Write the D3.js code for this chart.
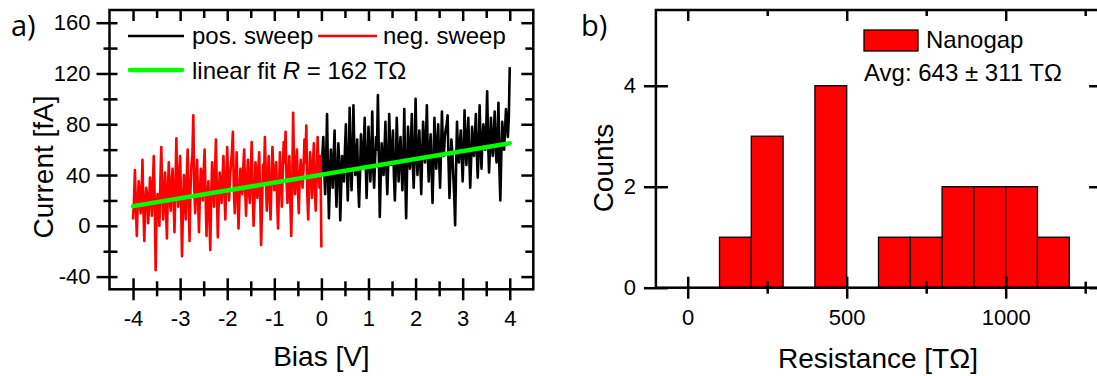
<!DOCTYPE html>
<html>
<head>
<meta charset="utf-8">
<script src="https://cdn.jsdelivr.net/npm/d3@7"></script>
<style>
  html, body { margin: 0; padding: 0; background: #fff; }
  svg { display: block; font-family: "Liberation Sans", Arial, sans-serif; }
</style>
</head>
<body>
<svg id="chart" width="1097" height="376"></svg>
<script>
// ---------------- DATA ----------------
// Panel a: I–V sweeps (bias sampled every 0.02 V)
const biasStep = 0.02;
const negSweepStart = -4;   // red: -4 V .. 0 V
const posSweepStart = 0;    // black: 0 V .. 4 V
const negSweepCurrent = [
  5, 20, 44, 15, -8, 18, 35, 28, 10, 22, 52, 12, -12, 20, 30, 25, 2, 15, 38, 30,
  8, 30, 55, 22, -35, 10, 25, 18, 0, 35, 62, 25, 5, 28, 42, 12, -10, 30, 50, 20,
  12, 35, 45, 20, -5, 30, 69, 28, 15, 40, 55, 18, -24, 12, 40, 25, 5, 38, 60, 22,
  -12, 28, 48, 55, 87, 30, 10, 35, 52, 22, -5, 25, 45, 38, 20, 42, 60, 25, -8, 20,
  35, 10, -19, 25, 50, 32, 15, 40, 68, 28, -9, 20, 42, 30, 18, 38, 55, 26, 5, 35,
  62, 35, 20, 40, 48, 58, 74, 30, 10, 32, 58, 25, -2, 22, 45, 35, 25, 45, 60, 30,
  8, 35, 52, 28, 18, 42, 66, 30, 0, 20, 50, 38, 22, 45, 58, 20, -15, 15, 48, 35,
  70, 40, 12, 30, 55, 25, 5, 35, 62, 45, 28, 40, 50, 20, -2, 30, 58, 38, 15, 42,
  66, 50, 74, 35, 18, 40, 55, 20, -8, 30, 89, 45, 25, 48, 60, 30, 10, 38, 52, 40,
  30, 45, 68, 50, 79, 25, 5, 35, 58, 42, 22, 48, 65, 30, 12, 40, 70, 45, 30, 55,
  -17
];
const posSweepCurrent = [
  40, 55, 70, 45, 25, 50, 88, 40, 6, 35, 60, 45, 30, 55, 75, 38, 15, 42, 65, 50,
  4.5, 30, 55, 42, 35, 60, 80, 48, 20, 45, 93, 55, 28, 50, 95, 60, 40, 52, 68, 35,
  15, 40, 72, 55, 45, 62, 85, 50, 22, 48, 78, 58, 35, 55, 90, 45, 30, 52, 70, 60,
  103, 55, 7, 38, 65, 52, 40, 60, 82, 45, 25, 50, 88, 62, 48, 58, 75, 40, 20, 45,
  85, 60, 35, 55, 70, 48, 28, 52, 92, 40, 6, 45, 78, 58, 45, 62, 88, 50, 30, 55,
  100, 62, 40, 58, 75, 50, 25, 55, 82, 65, 50, 68, 95, 55, 35, 60, 72, 45, 18, 48,
  85, 60, 45, 65, 80, 52, 30, 58, 90, 62, 55, 70, 76, 80, 87, 50, 22, 48, 68, 58,
  40, 25, 0.5, 45, 82, 60, 50, 65, 75, 55, 35, 58, 91, 62, 48, 70, 85, 55, 30, 52,
  78, 62, 55, 70, 88, 58, 38, 60, 95, 65, 45, 68, 80, 72, 60, 75, 106, 68, 42, 60,
  85, 65, 55, 72, 90, 62, 50, 68, 97, 45, 20, 55, 82, 70, 60, 75, 92, 80, 70, 85,
  125
];
const fitBias = [-4, 4];
const fitCurrent = [15.5, 65];
const biasTicks = [-4, -3, -2, -1, 0, 1, 2, 3, 4];
const biasMinorTicks = [-3.5, -2.5, -1.5, -0.5, 0.5, 1.5, 2.5, 3.5];
const currentTicks = [-40, 0, 40, 80, 120, 160];
const currentMinorTicks = [-20, 20, 60, 100, 140];
const legendA = ["pos. sweep", "neg. sweep", "linear fit"];

// Panel b: histogram of resistance
const binStart = [100, 200, 300, 400, 500, 600, 700, 800, 900, 1000, 1100];
const binWidth = 100;
const binCounts = [1, 3, 0, 4, 0, 1, 1, 2, 2, 2, 1];
const resTicks = [0, 500, 1000];
const resMinorTicks = [250, 750, 1250];
const countTicks = [0, 2, 4];
const legendB = ["Nanogap", "Avg: 643 \u00b1 311 T\u03a9"];

// ---------------- DRAW ----------------
const svg = d3.select("#chart");
const SW = 2.5;
const plain = d => String(d);   // hyphen-minus like the reference

function styleAxis(g, fontSize) {
  g.select(".domain").remove();
  g.selectAll(".tick line").attr("stroke", "#000").attr("stroke-width", SW);
  g.selectAll(".tick text").attr("fill", "#000").attr("font-size", fontSize)
    .attr("font-family", '"Liberation Sans", Arial, sans-serif');
  return g;
}
function addAxis(parent, gen, tx, ty, fontSize) {
  const g = parent.append("g").attr("transform", `translate(${tx},${ty})`).call(gen);
  return styleAxis(g, fontSize);
}

// ===== Panel a =====
const xA = d3.scaleLinear().domain([-4.5, 4.5]).range([109.5, 533.3]);
const yA = d3.scaleLinear().domain([-50, 170]).range([289.3, 10]);
const gA = svg.append("g");

const negData = negSweepCurrent.map((c, i) => [negSweepStart + i * biasStep, c]);
const posData = posSweepCurrent.map((c, i) => [posSweepStart + i * biasStep, c]);
const lineA = d3.line().x(d => xA(d[0])).y(d => yA(d[1]));

gA.append("path").datum(posData).attr("d", lineA)
  .attr("fill", "none").attr("stroke", "#000").attr("stroke-width", 2.6).attr("stroke-linejoin", "round");
gA.append("path").datum(negData).attr("d", lineA)
  .attr("fill", "none").attr("stroke", "#ff0000").attr("stroke-width", 2.6).attr("stroke-linejoin", "round");
gA.append("path").datum(fitBias.map((b, i) => [b, fitCurrent[i]])).attr("d", lineA)
  .attr("fill", "none").attr("stroke", "#00ff00").attr("stroke-width", 4.5).attr("stroke-linecap", "round");

// frame
gA.append("rect").attr("x", xA.range()[0]).attr("y", yA.range()[1])
  .attr("width", xA.range()[1] - xA.range()[0]).attr("height", yA.range()[0] - yA.range()[1])
  .attr("fill", "none").attr("stroke", "#000").attr("stroke-width", SW);

const yb = yA.range()[0], yt = yA.range()[1], xl = xA.range()[0], xr = xA.range()[1];
// bottom
addAxis(gA, d3.axisBottom(xA).tickValues(biasTicks).tickSize(11).tickPadding(10).tickFormat(plain), 0, yb, 22);
addAxis(gA, d3.axisTop(xA).tickValues(biasTicks).tickSize(11).tickFormat(""), 0, yb, 22);
addAxis(gA, d3.axisBottom(xA).tickValues(biasMinorTicks).tickSize(7).tickFormat(""), 0, yb, 22);
addAxis(gA, d3.axisTop(xA).tickValues(biasMinorTicks).tickSize(8).tickFormat(""), 0, yb, 22);
// top (inward)
addAxis(gA, d3.axisBottom(xA).tickValues(biasTicks).tickSize(11).tickFormat(""), 0, yt, 22);
addAxis(gA, d3.axisBottom(xA).tickValues(biasMinorTicks).tickSize(8).tickFormat(""), 0, yt, 22);
// left
addAxis(gA, d3.axisLeft(yA).tickValues(currentTicks).tickSize(13).tickPadding(6).tickFormat(plain), xl, 0, 22);
addAxis(gA, d3.axisRight(yA).tickValues(currentTicks).tickSize(8).tickFormat(""), xl, 0, 22);
addAxis(gA, d3.axisLeft(yA).tickValues(currentMinorTicks).tickSize(6).tickFormat(""), xl, 0, 22);
addAxis(gA, d3.axisRight(yA).tickValues(currentMinorTicks).tickSize(8).tickFormat(""), xl, 0, 22);
// right (inward)
addAxis(gA, d3.axisLeft(yA).tickValues(currentTicks).tickSize(12).tickFormat(""), xr, 0, 22);
addAxis(gA, d3.axisLeft(yA).tickValues(currentMinorTicks).tickSize(8).tickFormat(""), xr, 0, 22);

// axis titles
gA.append("text").attr("x", d3.mean(xA.range())).attr("y", 366).attr("text-anchor", "middle")
  .attr("font-size", 28).text("Bias [V]");
gA.append("text").attr("transform", "translate(53,167) rotate(-90)").attr("text-anchor", "middle")
  .attr("font-size", 28).text("Current [fA]");
gA.append("text").attr("x", 11).attr("y", 36).attr("font-size", 29)
  .attr("font-family", '"Open Sans", "Noto Sans", sans-serif').text("a)");

// legend a
const legA = gA.append("g");
legA.append("line").attr("x1", 128).attr("x2", 184).attr("y1", 36).attr("y2", 36)
  .attr("stroke", "#000").attr("stroke-width", 2.5);
legA.append("text").attr("x", 192).attr("y", 44).attr("font-size", 24).text(legendA[0]);
legA.append("line").attr("x1", 318).attr("x2", 377).attr("y1", 36).attr("y2", 36)
  .attr("stroke", "#ff0000").attr("stroke-width", 2.5);
legA.append("text").attr("x", 383).attr("y", 44).attr("font-size", 24).text(legendA[1]);
legA.append("line").attr("x1", 130).attr("x2", 182).attr("y1", 70).attr("y2", 70)
  .attr("stroke", "#00ff00").attr("stroke-width", 4.5).attr("stroke-linecap", "round");
const fitText = legA.append("text").attr("x", 192).attr("y", 79).attr("font-size", 24);
fitText.append("tspan").text(legendA[2] + " ");
fitText.append("tspan").attr("font-style", "italic").text("R");
fitText.append("tspan").text(" = 162 T\u03a9");

// ===== Panel b =====
const xB = d3.scaleLinear().domain([-100, 1300]).range([655.9, 1101.1]);
const yB = d3.scaleLinear().domain([0, 5.5]).range([287.7, 10]);
const gB = svg.append("g");

gB.selectAll("rect.bar").data(binStart.map((s, i) => ({ s, c: binCounts[i] })).filter(d => d.c > 0))
  .join("rect").attr("class", "bar")
  .attr("x", d => xB(d.s)).attr("width", d => xB(d.s + binWidth) - xB(d.s))
  .attr("y", d => yB(d.c)).attr("height", d => yB(0) - yB(d.c))
  .attr("fill", "#ff0000").attr("stroke", "#000").attr("stroke-width", 1.3);

const bxl = xB.range()[0], bxr = xB.range()[1], byb = yB.range()[0], byt = yB.range()[1];
gB.append("rect").attr("x", bxl).attr("y", byt).attr("width", bxr - bxl).attr("height", byb - byt)
  .attr("fill", "none").attr("stroke", "#000").attr("stroke-width", SW);

addAxis(gB, d3.axisBottom(xB).tickValues(resTicks).tickSize(11).tickPadding(11).tickFormat(plain), 0, byb, 22);
addAxis(gB, d3.axisTop(xB).tickValues(resTicks).tickSize(11).tickFormat(""), 0, byb, 22);
addAxis(gB, d3.axisBottom(xB).tickValues(resMinorTicks).tickSize(6).tickFormat(""), 0, byb, 22);
addAxis(gB, d3.axisTop(xB).tickValues(resMinorTicks).tickSize(6).tickFormat(""), 0, byb, 22);
addAxis(gB, d3.axisBottom(xB).tickValues(resTicks).tickSize(11).tickFormat(""), 0, byt, 22);
addAxis(gB, d3.axisBottom(xB).tickValues(resMinorTicks).tickSize(6).tickFormat(""), 0, byt, 22);
addAxis(gB, d3.axisLeft(yB).tickValues(countTicks).tickSize(12).tickPadding(8).tickFormat(plain), bxl, 0, 22);
addAxis(gB, d3.axisRight(yB).tickValues(countTicks).tickSize(12).tickFormat(""), bxl, 0, 22);
addAxis(gB, d3.axisLeft(yB).tickValues(countTicks).tickSize(12).tickFormat(""), bxr, 0, 22);

gB.append("text").attr("x", 878).attr("y", 368).attr("text-anchor", "middle")
  .attr("font-size", 28).text("Resistance [T\u03a9]");
gB.append("text").attr("transform", "translate(613,168) rotate(-90)").attr("text-anchor", "middle")
  .attr("font-size", 28).text("Counts");
gB.append("text").attr("x", 581).attr("y", 36).attr("font-size", 29)
  .attr("font-family", '"Open Sans", "Noto Sans", sans-serif').text("b)");

const legB = gB.append("g");
legB.append("rect").attr("x", 864).attr("y", 30).attr("width", 54).attr("height", 21)
  .attr("fill", "#ff0000").attr("stroke", "#000").attr("stroke-width", 1.3);
legB.append("text").attr("x", 926).attr("y", 48).attr("font-size", 24).text(legendB[0]);
legB.append("text").attr("x", 864).attr("y", 81).attr("font-size", 24).text(legendB[1]);
</script>
</body>
</html>
